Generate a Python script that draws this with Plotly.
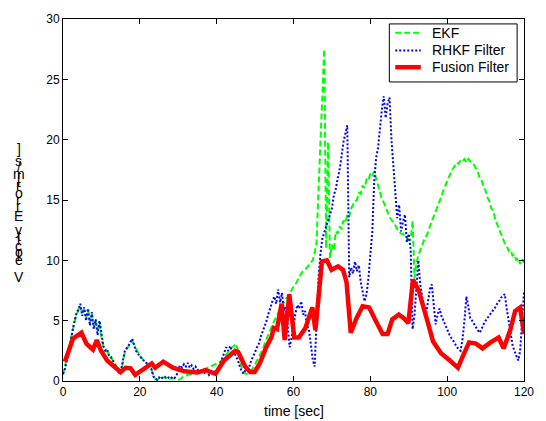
import numpy as np
import plotly.graph_objects as go

# ---------------- data ----------------
t_grid = [i * 0.5 for i in range(241)]  # 0 .. 120 s

ekf = [0.5, 1.2, 1.8, 2.6, 3.4, 4.2, 4.9, 5.5, 5.9, 6.2, 5.6, 6.0, 5.3, 5.9, 5.0, 5.6, 4.6, 5.0, 4.2, 4.8,
       3.6, 2.9, 2.7, 2.4, 2.2, 1.9, 1.7, 1.5, 1.1, 0.8,
       0.6, 1.4, 2.2, 2.6, 2.9, 3.1, 3.3, 3.0, 2.6, 2.3,
       2.1, 1.9, 1.7, 1.6, 1.4, 1.2, 1.0, 0.5, 0.2, 0.1,
       0.2, 0.1, 0.3, 0.3, 0.2, 0.25, 0.2, 0.25, 0.2, 0.15, 0.1,
       0.15, 0.3, 0.4, 0.45, 0.5, 0.55, 0.6, 0.65, 0.7, 0.7,
       0.8, 0.85, 0.9, 1.0, 1.05, 1.1, 1.2, 1.3, 1.35, 1.4,
       1.5, 1.6, 1.8, 2.0, 2.2, 2.4, 2.6, 2.8, 2.9, 3.1,
       2.6, 1.8, 1.1, 0.7, 0.6, 0.6, 0.7, 0.85, 1.1, 1.4, 1.6,
       1.9, 2.3, 2.65, 3.0, 3.5, 3.9, 4.3, 4.7, 5.0, 5.3,
       5.6, 5.9, 6.2, 6.6, 6.8, 7.0, 7.3, 7.5, 7.8, 8.0,
       8.3, 8.7, 8.9, 9.1, 9.2, 9.4, 9.6, 9.8, 10.0, 10.6,
       11.5, 15.7, 19.6, 23.6, 27.5, 11.0, 19.8, 10.2, 11.3, 10.8,
       12.4, 12.2, 12.8, 12.6, 13.3, 13.1, 13.8, 13.6, 14.3, 14.6,
       14.9, 15.0, 15.6, 15.5, 16.2, 16.0, 16.7, 16.6, 17.2, 17.0,
       17.4, 16.8, 16.2, 15.6, 15.1, 14.8, 14.3, 14.0, 13.6, 13.4,
       13.1, 12.9, 12.6, 12.4, 12.2, 12.2, 12.0, 11.8, 11.7, 11.7, 13.3,
       8.5, 9.8, 10.4, 10.9, 11.3, 11.7, 12.0, 12.3, 12.8, 13.2,
       13.7, 14.1, 14.5, 14.9, 15.3, 15.8, 16.2, 16.6, 16.9, 17.3,
       17.6, 17.9, 18.1, 18.0, 18.3, 18.2, 18.4, 18.1, 18.4, 18.2,
       18.1, 17.9, 17.6, 17.3, 16.8, 16.6, 16.0, 15.8, 15.2, 14.9,
       14.3, 14.1, 13.4, 13.0, 12.6, 12.1, 11.8, 11.4, 11.2, 10.8,
       10.9, 10.4, 10.5, 10.0, 10.2, 9.7, 10.1, 9.8]

rhkf = [0.6, 1.0, 1.7, 2.5, 3.4, 4.4, 5.0, 5.6, 5.9, 6.4, 5.4, 6.1, 5.0, 6.0, 4.6, 5.7, 4.3, 5.1, 3.8, 5.0,
        3.8, 2.9, 2.5, 2.6, 2.1, 2.0, 1.7, 1.4, 1.0, 0.7,
        0.7, 1.5, 2.4, 2.7, 2.9, 3.2, 3.5, 3.0, 2.5, 2.3,
        2.0, 1.9, 1.7, 1.6, 1.3, 1.2, 1.0, 0.4, 0.2, 0.1,
        0.3, 0.15, 0.35, 0.35, 0.2, 0.3, 0.2, 0.35, 0.25, 0.4, 1.0,
        1.3, 1.1, 1.4, 1.2, 1.5, 1.1, 1.3, 1.0, 1.2, 0.9,
        1.0, 0.7, 0.9, 0.6, 0.8, 0.5, 0.7, 0.6, 0.8, 0.9,
        1.1, 1.5, 1.9, 2.3, 2.8, 2.5, 2.9, 2.4, 2.6, 2.0,
        1.8, 1.2, 0.8, 0.6, 0.9, 0.9, 1.2, 1.7, 2.0, 2.4, 2.8,
        3.1, 3.7, 4.1, 4.6, 5.0, 5.6, 6.2, 6.6, 7.0, 6.4,
        7.6, 6.5, 7.3, 5.8, 6.2, 4.5, 2.8, 3.6, 4.8, 5.6,
        6.3, 6.0, 6.6, 5.5, 5.8, 4.6, 4.3, 3.2, 1.8, 1.2,
        4.5, 8.5, 10.5, 11.8, 12.3, 12.8, 13.5, 13.9, 14.3, 15.4,
        15.9, 16.8, 17.5, 18.6, 19.8, 20.5, 21.2, 8.6, 9.4, 8.9,
        9.9, 9.1, 9.6, 8.2, 7.4, 6.6, 7.2, 8.5, 10.5, 12.3,
        16.5, 18.5, 19.3, 21.2, 22.5, 23.6, 21.8, 23.0, 23.5, 20.0,
        18.0, 15.5, 13.5, 14.6, 12.4, 13.2, 13.8, 11.5, 12.2, 10.9, 4.3,
        5.5, 8.2, 10.0, 8.0, 6.8, 6.0, 5.5, 6.4, 7.6, 8.0,
        6.5, 4.7, 5.5, 6.0, 5.4, 5.0, 4.7, 4.2, 3.9, 3.6,
        3.4, 3.1, 2.9, 2.6, 2.5, 3.5, 5.0, 7.0, 6.2, 5.2,
        5.0, 4.7, 4.4, 4.2, 4.0, 4.4, 4.7, 5.0, 5.2, 5.4,
        5.7, 5.9, 6.1, 6.4, 6.6, 6.9, 7.1, 7.2, 6.0, 5.0,
        3.9, 3.0, 2.5, 2.1, 1.7, 2.5, 5.2, 7.4]

t_fusion = [0.5, 2.6, 4.8, 6.1, 7.8, 8.8, 9.9, 11.5, 13.3, 15.0, 16.3, 17.6, 18.8, 20.5, 23.1, 24.0,
            26.1, 28.6, 31.6, 35.0, 37.1, 39.7, 41.9, 44.8, 45.6, 47.4, 48.7, 49.9, 51.2, 52.9,
            54.2, 54.9, 55.7, 56.9, 57.7, 58.9, 60.2, 61.4, 63.1, 64.9, 65.7, 67.4, 68.7, 69.9,
            71.6, 72.9, 73.8, 74.9, 76.4, 78.0, 79.7, 81.4, 83.2, 84.5, 85.7, 87.4, 88.7, 89.9,
            91.1, 92.6, 93.8, 95.1, 96.3, 98.4, 100.7, 102.8, 104.0, 105.7, 107.5, 109.2, 111.3,
            113.4, 114.7, 116.4, 117.7, 119.0, 120.0]
fusion = [1.6, 3.5, 4.0, 3.1, 2.6, 3.4, 2.5, 1.7, 1.2, 0.75, 1.1, 1.05, 0.5, 0.9, 1.45, 1.1,
          1.6, 1.1, 0.8, 0.7, 0.9, 0.6, 1.7, 2.5, 2.4, 1.2, 0.75, 0.75, 1.45, 2.8,
          3.6, 4.4, 4.3, 6.4, 3.4, 7.2, 3.6, 3.6, 4.4, 6.1, 4.2, 9.9, 10.0, 9.2,
          9.5, 9.2, 8.2, 4.0, 5.2, 6.2, 6.1, 5.0, 3.9, 3.9, 5.1, 5.5, 5.2, 4.8,
          8.4, 7.5, 6.3, 4.7, 3.3, 2.3, 1.7, 1.1, 2.0, 3.2, 3.1, 2.7, 3.2,
          3.6, 2.7, 4.2, 5.8, 6.1, 3.9]

x_ticks = [0, 20, 40, 60, 80, 100, 120]
y_ticks = [0, 5, 10, 15, 20, 25, 30]
series_names = ["EKF", "RHKF Filter", "Fusion Filter"]
x_title = "time [sec]"
y_title = "Velocity Error [m/s]"

# ---------------- figure ----------------
FONT = "Liberation Sans, Arial, sans-serif"
W, H = 546, 421
L, R, T, B = 63, 14, 13, 40
pw, ph = W - L - R, H - T - B

styles = [dict(color="#00ff00", width=2, dash="6px,3px"),
          dict(color="#0000ff", width=2, dash="2px,2px"),
          dict(color="#ff0000", width=4.5)]
xs = [t_grid, t_grid, t_fusion]
ys = [ekf, rhkf, fusion]

fig = go.Figure()
for name, x, y, st in zip(series_names, xs, ys, styles):
    fig.add_trace(go.Scatter(x=x, y=y, mode="lines", name=name, line=st, showlegend=False))

axis_common = dict(showline=True, linecolor="black", linewidth=1, mirror="allticks",
                   ticks="inside", ticklen=5, tickcolor="black", showgrid=False,
                   zeroline=False, tickfont=dict(family=FONT, size=12, color="black"))
fig.update_xaxes(range=[0, 120], tickvals=x_ticks, **axis_common)
fig.update_yaxes(range=[0, 30], tickvals=y_ticks, **axis_common)

def px_x(x):
    return (x - L) / pw

def px_y(y):
    return (H - B - y) / ph

annotations = [dict(text=x_title, xref="paper", yref="paper", x=0.5, y=px_y(412),
                    showarrow=False, xanchor="center", yanchor="middle",
                    font=dict(family=FONT, size=14, color="black"))]

# y-axis title drawn MATLAB-style: characters stacked, unrotated, reading bottom to top
chars = list(reversed(y_title))
centers = [145, 157, 163, 171, 176, None, 182, 190, 197, 203, 213, None,
           228, 234, 238, 244, 250, 254, 258, 275]
for ch, cy in zip(chars, centers):
    if cy is None or ch == " ":
        continue
    annotations.append(dict(text=ch, xref="paper", yref="paper", x=px_x(18), y=px_y(cy),
                            showarrow=False, xanchor="center", yanchor="middle",
                            font=dict(family=FONT, size=14, color="black")))

# legend box (MATLAB style) drawn in pixel positions
shapes = [dict(type="rect", xref="paper", yref="paper",
               x0=px_x(395), x1=px_x(525), y0=px_y(77), y1=px_y(18),
               line=dict(color="black", width=1), fillcolor="white", layer="above")]
rows = [27, 45, 62]
for name, st, ry in zip(series_names, styles, rows):
    shapes.append(dict(type="line", xref="paper", yref="paper",
                       x0=px_x(401), x1=px_x(427), y0=px_y(ry), y1=px_y(ry),
                       line=st, layer="above"))
    annotations.append(dict(text=name, xref="paper", yref="paper", x=px_x(436), y=px_y(ry),
                            showarrow=False, xanchor="left", yanchor="middle",
                            font=dict(family=FONT, size=14, color="black")))

fig.update_layout(
    width=W, height=H,
    margin=dict(l=L, r=R, t=T, b=B),
    paper_bgcolor="white", plot_bgcolor="white",
    showlegend=False,
    annotations=annotations,
    shapes=shapes,
)

fig.write_html("out.html", config={"displayModeBar": False},
               post_script="document.body.style.margin='0';document.body.style.padding='0';"
                           "document.body.style.overflow='hidden';")
